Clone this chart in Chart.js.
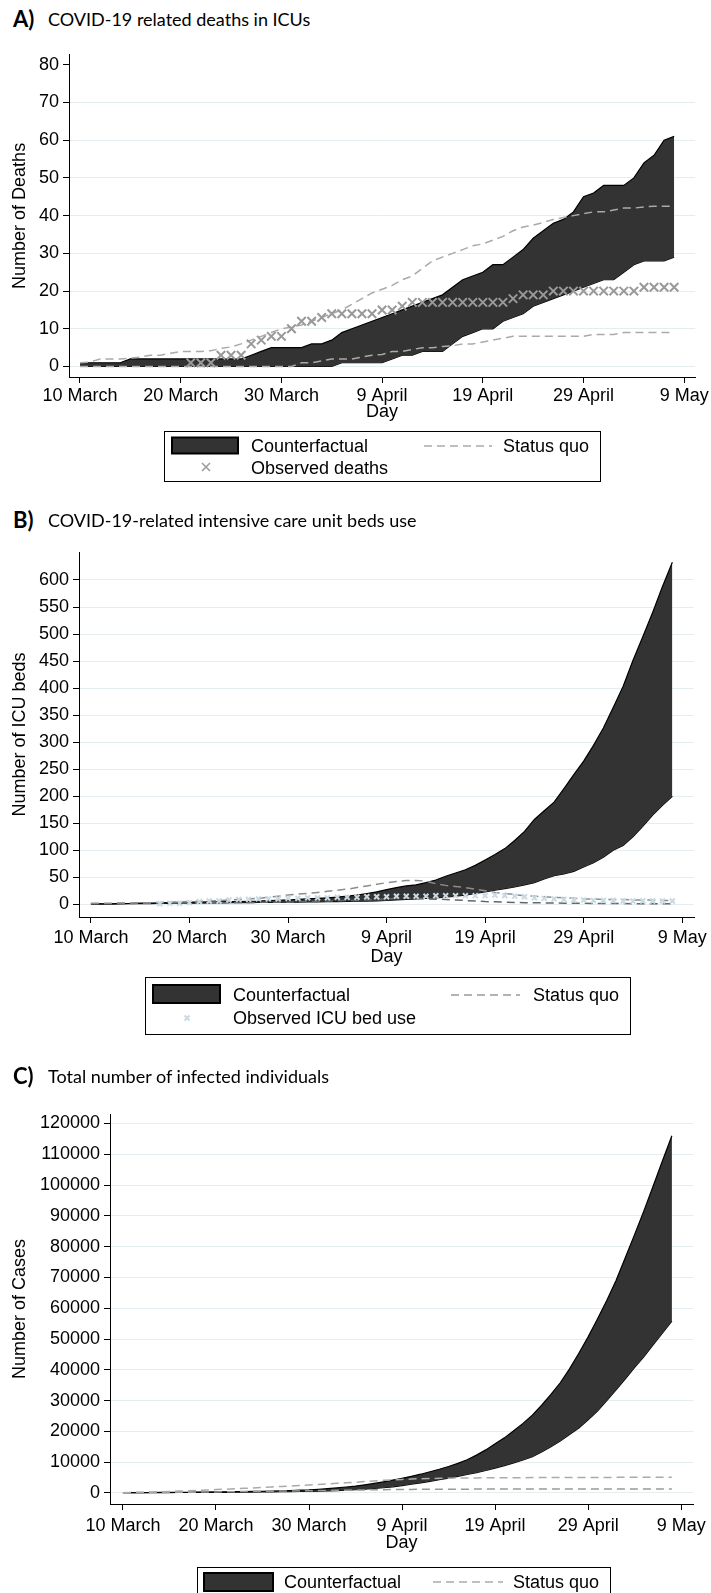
<!DOCTYPE html>
<html><head><meta charset="utf-8">
<script src="https://cdn.jsdelivr.net/npm/chart.js@4.4.0/dist/chart.umd.min.js"></script>
<style>
html,body{margin:0;padding:0;background:#fff;}
body{width:711px;height:1593px;position:relative;overflow:hidden;font-family:"Liberation Sans",Arial,sans-serif;}
canvas{position:absolute;left:0;}
.title{position:absolute;left:0;height:30px;line-height:30px;white-space:nowrap;font-family:Lato,"Open Sans",sans-serif;color:#000;}
.title b{position:absolute;left:13px;font-size:22px;font-weight:700;}
.title span{position:absolute;left:48px;font-size:18px;}
.legend{position:absolute;border:1px solid #000;background:#fff;box-sizing:border-box;}
.txt{position:absolute;font-size:18px;line-height:22px;height:22px;color:#000;white-space:nowrap;}
svg{position:absolute;overflow:visible;}
</style></head>
<body>
<div class="title" style="top:4px"><b>A)</b><span>COVID-19 related deaths in ICUs</span></div>
<canvas id="cA" width="711" height="390" style="top:40px"></canvas>
<div class="legend" style="left:164px;top:431px;width:437px;height:51px"></div>
<svg style="left:0;top:0" width="711" height="500">
  <rect x="172" y="437.5" width="66" height="16" fill="#333" stroke="#000" stroke-width="2"/>
  <line x1="424" y1="446" x2="492" y2="446" stroke="#aaa" stroke-width="1.5" stroke-dasharray="8 5"/>
  <path d="M202 463 L210 471 M210 463 L202 471" stroke="#999" stroke-width="1.5"/>
</svg>
<div class="txt" style="left:251px;top:435px">Counterfactual</div>
<div class="txt" style="left:503px;top:435px">Status quo</div>
<div class="txt" style="left:251px;top:457px">Observed deaths</div>

<div class="title" style="top:505px"><b>B)</b><span>COVID-19-related intensive care unit beds use</span></div>
<canvas id="cB" width="711" height="475" style="top:500px"></canvas>
<div class="legend" style="left:145px;top:977px;width:486px;height:58px"></div>
<svg style="left:0;top:0" width="711" height="1100">
  <rect x="153" y="985" width="67" height="18" fill="#333" stroke="#000" stroke-width="2"/>
  <line x1="451" y1="995" x2="520" y2="995" stroke="#999" stroke-width="1.5" stroke-dasharray="8 5"/>
  <path d="M184.5 1015.5 L189.5 1020.5 M189.5 1015.5 L184.5 1020.5" stroke="#c8dae3" stroke-width="2"/>
</svg>
<div class="txt" style="left:233px;top:984px">Counterfactual</div>
<div class="txt" style="left:533px;top:984px">Status quo</div>
<div class="txt" style="left:233px;top:1007px">Observed ICU bed use</div>

<div class="title" style="top:1061px"><b>C)</b><span>Total number of infected individuals</span></div>
<canvas id="cC" width="711" height="475" style="top:1090px"></canvas>
<div class="legend" style="left:197px;top:1567px;width:414px;height:40px"></div>
<svg style="left:0;top:0" width="711" height="1593">
  <rect x="204" y="1573" width="69" height="18" fill="#333" stroke="#000" stroke-width="2"/>
  <line x1="433" y1="1582" x2="503" y2="1582" stroke="#aaa" stroke-width="1.5" stroke-dasharray="8 5"/>
</svg>
<div class="txt" style="left:284px;top:1571px">Counterfactual</div>
<div class="txt" style="left:513px;top:1571px">Status quo</div>

<script>
// ---- categories (day index from 10 March) ----
const dayIndex = [0,1,2,3,4,5,6,7,8,9,10,11,12,13,14,15,16,17,18,19,20,21,22,23,24,25,26,27,28,29,
                  30,31,32,33,34,35,36,37,38,39,40,41,42,43,44,45,46,47,48,49,50,51,52,53,54,55,56,57,58,59];
const xTickDays = [0,10,20,30,40,50,60];
const xTickLabels = ['10 March','20 March','30 March','9 April','19 April','29 April','9 May'];
const yTicksA = [0,10,20,30,40,50,60,70,80];
const yTicksB = [0,50,100,150,200,250,300,350,400,450,500,550,600];
const yTicksC = [0,10000,20000,30000,40000,50000,60000,70000,80000,90000,100000,110000,120000];

// ---- Panel A: deaths ----
const cfUpperA = [1,1,1,1,1,2,2,2,2,2,2,2,2,2,2,2,2,3,4,5,5,5,5,6,6,7,9,10,11,12,
                  13,14,15,16,17,18,19,21,23,24,25,27,27,29,31,34,36,38,39,41,45,46,48,48,48,50,54,56,60,61];
const cfLowerA = [0,0,0,0,0,0,0,0,0,0,0,0,0,0,0,0,0,0,0,0,0,0,0,0,0,0,1,1,1,1,
                  1,2,3,3,4,4,4,6,8,9,10,10,12,13,14,16,17,18,19,20,21,22,23,23,25,27,28,28,28,29];
const sqUpperA = [1,1.2,2,2,2,2.2,2.5,3,3,3.5,4,4,4,4.2,4.8,5.2,6,7,8,9,10,10.5,11,12,13,14,15,16.5,18,19.5,
                  20.5,21.5,23,24,26,28,29,30,31,32,32.5,33.5,34.5,36,37,37.5,38.2,39,39.5,40,40.5,41,41,41.5,42,42,42.3,42.5,42.5,42.5];
const sqLowerA = [0,0,0,0,0,0,0,0,0,0,0,0,0,0,0,0,0,0,0,0,0,0,1,1,1.5,2,2,2,2.5,3,
                  3.2,4,4,4.5,5,5,5.3,5.5,6,6,6.5,7,7.5,8,8,8,8,8,8,8,8,8.5,8.5,8.5,9,9,9,9,9,9];
const obsA = [null,null,null,null,null,null,null,null,null,null,null,1,1,1,3,3,3,6,7,8,8,10,12,12,13,14,14,14,14,14,
              15,15,16,17,17,17,17,17,17,17,17,17,17,18,19,19,19,20,20,20,20,20,20,20,20,20,21,21,21,21];

// ---- Panel B: ICU beds ----
const cfUpperB = [1,1,1,1.5,1.5,2,2,2.5,3,3.5,4,4,4.5,4.5,5,5,5.5,6,7,7.5,8,9,10,11,12,13.5,15,17,20,23,
                  27,31,34,36,40,45,52,58,64,72,82,92,103,118,135,157,173,189,214,240,265,294,326,364,403,451,495,540,588,633];
const cfLowerB = [0.5,0.5,0.5,0.8,1,1,1.2,1.5,1.5,2,2,2,2.5,2.5,3,3,3,3.5,3.5,4,4,4,4.5,4.5,5,5,5.5,6,6,6.5,
                  7,8,9,10,11,12,13,15,17,20,23,26,29,32,36,40,47,53,56,61,69,77,87,100,109,125,144,165,183,200];
const sqUpperB = [2,2,2,2.5,2.5,3,3,3.5,4,4.5,5,5.5,6,7,8,9,10,11,13,15,17,19,20,22,24,26,28,31,34,37,
                  40,42,44,44,43,38,35,33,31,28,25,22,20,18,16,15,14,13,12,11,10,10,9,9,9,8,8,8,7,7];
const sqLowerB = [1,1,1,1.5,1.5,2,2,2,2.5,2.5,3,3,3,3,3,3.5,3.5,3.5,4,4,4,4.5,5,5.5,6,6.5,7,7.5,8,9,
                  10,11,11,11,10,9.5,9,8,7,6,5,4.5,4,3.5,3,3,2.5,2.5,2,2,2,1.5,1.5,1.5,1.5,1,1,1,1,1];
const obsB = [null,null,null,null,null,null,null,1,2,2,3,5,6,6,8,9,9,10,10,10,11,11,12,12,12,13,13,13,14,14,
              14,15,15,15,15,16,16,16,16,16,16,17,16,15,14,12,11,10,9,8,8,7,7,7,6,6,6,6,6,6];

// ---- Panel C: infected ----
const cfUpperC = [100,115,130,150,170,190,215,240,270,300,335,370,410,460,510,570,640,720,810,900,
                  1000,1200,1400,1650,1950,2250,2650,3100,3600,4150,4750,5400,6100,6900,7700,8600,9600,10800,12300,14000,
                  16000,17900,20200,22600,25300,28500,32000,35800,40300,45400,50700,56500,62500,69000,76500,84000,91700,99800,108000,116000];
const cfLowerC = [100,105,110,120,130,140,150,165,180,195,210,230,250,275,300,330,360,400,440,490,
                  540,600,680,780,900,1050,1230,1450,1700,2000,2400,2850,3300,3800,4300,4850,5400,6000,6600,7300,
                  8100,8900,9800,10700,11800,13300,15000,16900,19000,21100,23800,26600,30000,33500,37100,40800,44300,48200,52000,55800];
const sqUpperC = [100,170,250,330,410,500,610,720,840,970,1100,1230,1370,1510,1650,1800,1960,2120,2280,2440,
                  2600,2780,2960,3140,3320,3500,3700,3900,4100,4250,4400,4530,4650,4720,4770,4800,4840,4870,4900,4930,
                  4950,4960,4970,4980,4990,5000,5010,5020,5030,5040,5050,5060,5060,5070,5080,5080,5090,5090,5100,5100];
const sqLowerC = [100,120,140,160,180,200,220,250,280,310,340,380,420,460,500,540,580,620,660,700,
                  740,780,820,860,900,950,1000,1050,1080,1110,1150,1170,1190,1210,1220,1230,1240,1250,1260,1265,
                  1270,1275,1280,1285,1290,1295,1300,1300,1300,1300,1300,1300,1300,1300,1300,1300,1300,1300,1300,1300];

const FONT = {family: '"Liberation Sans", Arial, sans-serif', size: 18};

function build(id, o) {
  const datasets = [];
  if (o.obs) {
    datasets.push({data: o.obs, showLine: false, pointStyle: 'crossRot',
      pointRadius: o.markR, pointBorderColor: o.markColor, pointBackgroundColor: o.markColor,
      pointBorderWidth: o.markW, borderColor: o.markColor, fill: false});
  }
  datasets.push({data: o.sqU, borderColor: o.sqUColor, borderWidth: 1.5, borderDash: [8,5], pointRadius: 0, fill: false, tension: 0});
  datasets.push({data: o.sqL, borderColor: o.sqLColor, borderWidth: 1.5, borderDash: [8,5], pointRadius: 0, fill: false, tension: 0});
  datasets.push({data: o.cfU, borderColor: '#000', borderWidth: 1.2, pointRadius: 0, fill: '+1', backgroundColor: '#333333', tension: 0});
  datasets.push({data: o.cfL, borderColor: '#000', borderWidth: 1.2, pointRadius: 0, fill: false, tension: 0});

  return new Chart(document.getElementById(id), {
    type: 'line',
    data: {labels: dayIndex, datasets: datasets},
    options: {
      responsive: false, animation: false, devicePixelRatio: 1,
      layout: {padding: {top: o.padTop, right: 15, bottom: 0, left: 0}},
      plugins: {legend: {display: false}, tooltip: {enabled: false}, title: {display: false}},
      scales: {
        x: {
          type: 'linear', min: o.xMin, max: o.xMax,
          afterBuildTicks: s => { s.ticks = xTickDays.map(v => ({value: v})); },
          afterFit: s => { s.height = o.xH; },
          ticks: {autoSkip: false, maxRotation: 0, minRotation: 0, padding: o.xPad, color: '#000', font: FONT,
                  callback: v => xTickLabels[xTickDays.indexOf(v)]},
          grid: {drawOnChartArea: false, drawTicks: true, tickLength: 6, tickColor: '#000', tickWidth: 1},
          border: {display: true, color: '#000', width: 1},
          title: {display: true, text: 'Day', color: '#000', font: FONT, padding: {top: 0, bottom: o.dayPad}}
        },
        y: {
          type: 'linear', min: o.yMin, max: o.yMax,
          afterBuildTicks: s => { s.ticks = o.yTicks.map(v => ({value: v})); },
          afterFit: s => { s.width = o.yW; },
          ticks: {padding: 4, color: '#000', font: FONT, callback: v => String(v)},
          grid: {drawTicks: true, tickLength: 6, tickColor: '#000', lineWidth: 1,
                 color: c => (c.tick && o.hideTop && c.tick.value === o.yTicks[o.yTicks.length-1]) ? 'rgba(0,0,0,0)' : '#e5edf0'},
          border: {display: true, color: '#000', width: 1},
          title: {display: true, text: o.yTitle, color: '#000', font: FONT, padding: {top: 9, bottom: 0}}
        }
      }
    }
  });
}

build('cA', {obs: obsA, markR: 6, markW: 2, markColor: '#999999',
  sqU: sqUpperA, sqL: sqLowerA, sqUColor: '#aaaaaa', sqLColor: '#aaaaaa', cfU: cfUpperA, cfL: cfLowerA,
  padTop: 14, xH: 53, xPad: 2, dayPad: 7, xMin: -1.09, xMax: 61.09,
  yMin: -2.78, yMax: 82.64, yTicks: yTicksA, yW: 69, yTitle: 'Number of Deaths', hideTop: true});

build('cB', {obs: obsB, markR: 3.5, markW: 2, markColor: '#c8dae3',
  sqU: sqUpperB, sqL: sqLowerB, sqUColor: '#8c8c8c', sqLColor: '#666666', cfU: cfUpperB, cfL: cfLowerB,
  padTop: 52, xH: 58, xPad: 4, dayPad: 7, xMin: -1.21, xMax: 61.21,
  yMin: -23.5, yMax: 651.8, yTicks: yTicksB, yW: 79, yTitle: 'Number of ICU beds', hideTop: false});

build('cC', {obs: null,
  sqU: sqUpperC, sqL: sqLowerC, sqUColor: '#aaaaaa', sqLColor: '#999999', cfU: cfUpperC, cfL: cfLowerC,
  padTop: 24, xH: 61, xPad: 5, dayPad: 10.7, xMin: -1.39, xMax: 61.28,
  yMin: -3577, yMax: 123090, yTicks: yTicksC, yW: 110, yTitle: 'Number of Cases', hideTop: false});
</script>
</body></html>
